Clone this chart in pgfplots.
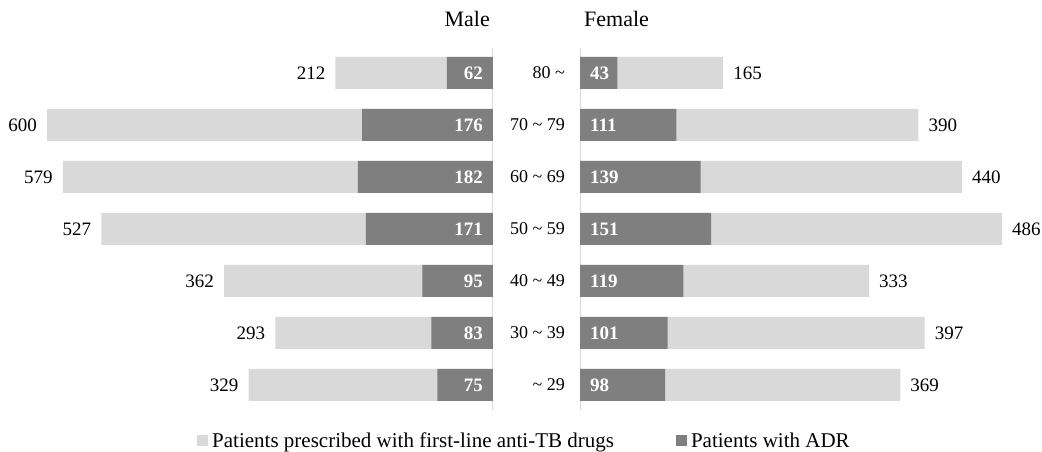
\documentclass[border=0pt]{standalone}
\usepackage{fontspec}
\setmainfont{Liberation Serif}
\usepackage{pgfplots}
\pgfplotsset{compat=1.18}
\usepackage{pgfplotstable}
\definecolor{lightbar}{HTML}{D9D9D9}
\definecolor{darkbar}{HTML}{7F7F7F}
\definecolor{axisline}{HTML}{D9D9D9}

\pgfplotstableread{
y ml ma fl fa
0 329 75 369 98
1 293 83 397 101
2 362 95 333 119
3 527 171 486 151
4 579 182 440 139
5 600 176 390 111
6 212 62 165 43
}\datatable

\newcommand{\lblfont}{\fontsize{19}{22}\selectfont}
\newcommand{\catfont}{\fontsize{18}{21}\selectfont}
\newcommand{\ttlfont}{\fontsize{22}{26}\selectfont}
\newcommand{\legfont}{\fontsize{21}{24}\selectfont}

\begin{document}
\begin{tikzpicture}[x=1pt,y=1pt]
\useasboundingbox (0,0) rectangle (1042,-452);
% ---------------- Male ----------------
\begin{axis}[
  at={(493pt,-47pt)}, anchor=north east,
  scale only axis, width=490.4pt, height=364pt,
  x dir=reverse, xmin=0, xmax=660, ymin=-0.5, ymax=6.5,
  hide axis, clip=false,
  xbar, bar width=32pt, bar shift=0pt,
]
\draw[axisline, line width=1pt] (axis cs:0,-0.48) -- (axis cs:0,6.48);
\addplot[fill=lightbar, draw=none, nodes near coords, point meta=explicit symbolic,
  nodes near coords style={anchor=east, inner sep=0pt, xshift=-10pt, font=\lblfont, text=black}]
  table[x=ml, y=y, meta=ml] {\datatable};
\addplot[fill=darkbar, draw=none] table[x=ma, y=y] {\datatable};
\addplot[draw=none, fill=none, nodes near coords, point meta=explicit symbolic,
  nodes near coords style={anchor=east, inner sep=0pt, xshift=-10pt, font=\lblfont\bfseries, text=white}]
  table[x expr=0, y=y, meta=ma] {\datatable};
\node[anchor=base east, font=\ttlfont, inner sep=0pt] at (axis cs:4,6.885) {Male};
\end{axis}
% ---------------- Female ----------------
\begin{axis}[
  at={(580pt,-47pt)}, anchor=north west,
  scale only axis, width=460pt, height=364pt,
  xmin=0, xmax=530, ymin=-0.5, ymax=6.5,
  axis line style={draw=none}, xtick=\empty,
  ytick={0,1,2,3,4,5,6},
  yticklabels={{\textasciitilde{} 29},{30 \textasciitilde{} 39},{40 \textasciitilde{} 49},{50 \textasciitilde{} 59},{60 \textasciitilde{} 69},{70 \textasciitilde{} 79},{80 \textasciitilde}},
  major tick length=0pt,
  yticklabel style={font=\catfont, anchor=east, inner sep=0pt, xshift=-15pt},
  clip=false,
  xbar, bar width=32pt, bar shift=0pt,
  legend columns=2,
  legend image code/.code={\fill[#1] (0pt,-5pt) rectangle (11pt,6pt);},
  legend style={at={(axis description cs:-0.8326,-0.0824)}, anchor=west,
    draw=none, fill=none, inner sep=0pt, font=\legfont,
    nodes={inner sep=0pt},
    /tikz/every odd column/.append style={column sep=4pt},
    /tikz/every even column/.append style={column sep=62pt}},
]
\draw[axisline, line width=1pt] (axis cs:0,-0.48) -- (axis cs:0,6.48);
\addplot[fill=lightbar, draw=none, nodes near coords, point meta=explicit symbolic,
  nodes near coords style={anchor=west, inner sep=0pt, xshift=10pt, font=\lblfont, text=black}]
  table[x=fl, y=y, meta=fl] {\datatable};
\addlegendentry{Patients prescribed with first-line anti-TB drugs}
\addplot[fill=darkbar, draw=none] table[x=fa, y=y] {\datatable};
\addlegendentry{Patients with ADR}
\addplot[forget plot, draw=none, fill=none, nodes near coords, point meta=explicit symbolic,
  nodes near coords style={anchor=west, inner sep=0pt, xshift=10pt, font=\lblfont\bfseries, text=white}]
  table[x expr=0, y=y, meta=fa] {\datatable};
\node[anchor=base west, font=\ttlfont, inner sep=0pt] at (axis cs:4.6,6.885) {Female};
\end{axis}
\end{tikzpicture}
\end{document}
